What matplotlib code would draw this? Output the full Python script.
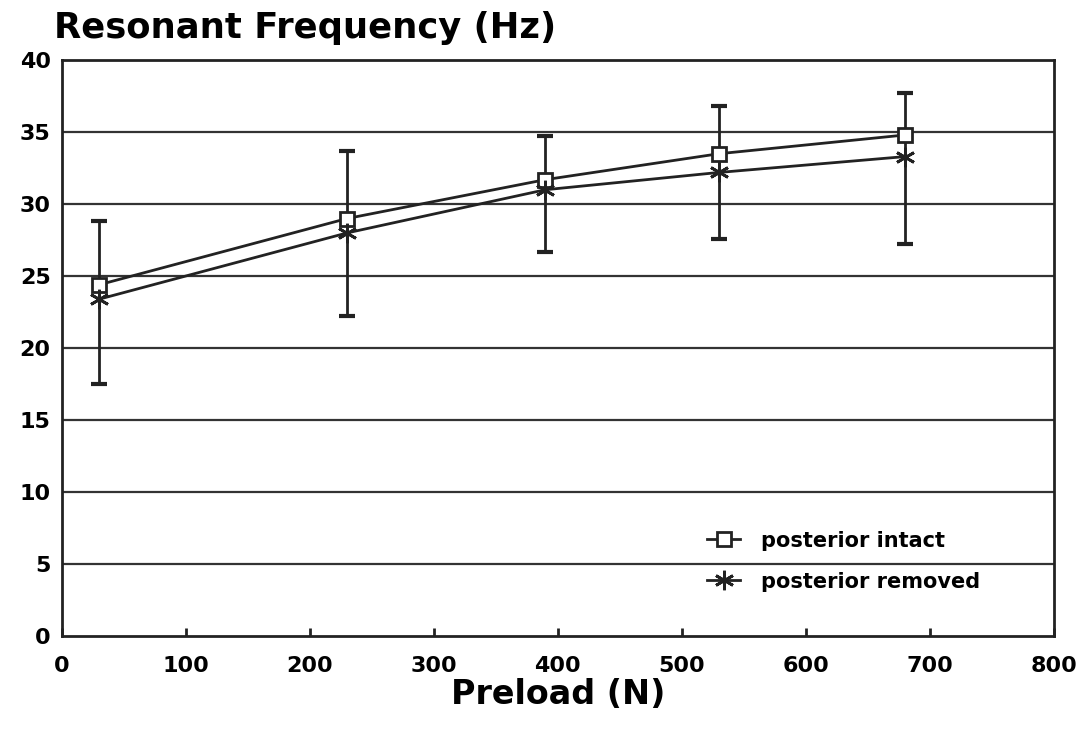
import numpy as np
import matplotlib
matplotlib.use("Agg")
import matplotlib.pyplot as plt

# data
preload = [30, 230, 390, 530, 680]
intact = [24.4, 29.0, 31.7, 33.5, 34.8]
removed = [23.4, 28.0, 31.0, 32.2, 33.3]
err_low = [17.5, 22.2, 26.7, 27.6, 27.2]
err_high = [28.8, 33.7, 34.7, 36.8, 37.7]

xticks = [0, 100, 200, 300, 400, 500, 600, 700, 800]
yticks = [0, 5, 10, 15, 20, 25, 30, 35, 40]

ink = "#222222"
plt.rcParams['font.family'] = ['DejaVu Sans']
plt.rcParams['font.weight'] = 'bold'

fig = plt.figure(figsize=(10.84, 7.33), dpi=100)
ax = fig.add_axes([0.057, 0.132, 0.915, 0.786])

for y in yticks[1:-1]:
    ax.axhline(y, color="#333333", lw=1.6, zorder=1)

# error bars (shared)
mid = np.array(removed)
yerr = [mid - np.array(err_low), np.array(err_high) - mid]
ax.errorbar(preload, removed, yerr=yerr, fmt='none', ecolor=ink,
            elinewidth=2, capsize=6, capthick=3, zorder=2)

ax.plot(preload, intact, color=ink, lw=2, marker='s', ms=10,
        mfc='white', mec=ink, mew=2, label='posterior intact', zorder=3)
ax.plot(preload, removed, color=ink, lw=2, marker=(6, 2, 0), ms=14,
        mec=ink, mew=2, label='posterior removed', zorder=3)

ax.set_xlim(0, 800)
ax.set_ylim(0, 40)
ax.set_xticks(xticks)
ax.set_yticks(yticks)
ax.tick_params(axis='x', direction='in', length=6, width=2, color=ink,
               labelsize=16, pad=14)
ax.tick_params(axis='y', length=0, labelsize=16, pad=8)
for lab in ax.get_xticklabels() + ax.get_yticklabels():
    lab.set_fontweight('heavy')
for s in ax.spines.values():
    s.set_linewidth(2)
    s.set_color(ink)

ax.set_xlabel('Preload (N)', fontsize=24, fontweight='heavy', labelpad=2)
fig.text(0.05, 0.962, 'Resonant Frequency (Hz)', fontsize=25.5,
         fontweight='heavy', ha='left', va='center')

leg = ax.legend(loc='lower right', bbox_to_anchor=(0.945, 0.045), frameon=False,
                handlelength=1.6, labelspacing=1.0, handletextpad=1.0,
                prop={'weight': 'heavy', 'size': 15})

fig.savefig('out.png', dpi=100, facecolor='white')
